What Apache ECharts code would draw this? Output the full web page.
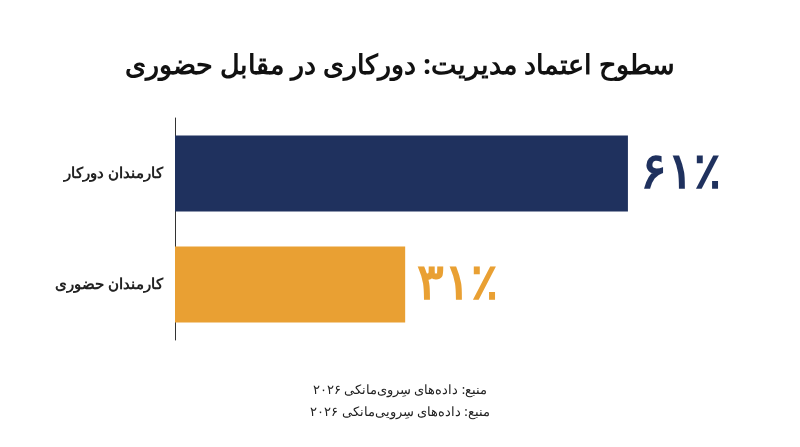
<!DOCTYPE html><html><head><meta charset="utf-8"><script src="https://cdn.jsdelivr.net/npm/echarts@6/dist/echarts.min.js"></script></head><body style="margin:0;background:#fff"><div id="c" style="width:800px;height:447px"></div><script>
const categories=['کارمندان دورکار','کارمندان حضوری'];
const values=[61,31];
const labels=['۶۱٪','۳۱٪'];
const colors=['#1f315e','#e9a033'];
const c=echarts.init(document.getElementById('c'));
c.setOption({
 title:[{text:'سطوح اعتماد مدیریت: دورکاری در مقابل حضوری',left:'center',top:48,textStyle:{fontFamily:'Noto Sans',fontSize:27,fontWeight:'bold',color:'#111'}},
 {text:'منبع: داده‌های سِروی‌مانکی ۲۰۲۶\nمنبع: داده‌های سِرویی‌مانکی ۲۰۲۶',left:'center',top:374,textStyle:{fontFamily:'Noto Sans',fontSize:13,fontWeight:'normal',color:'#222',lineHeight:22}}],
 grid:{left:175,width:594,top:118,bottom:107},
 xAxis:{type:'value',min:0,max:80,show:false},
 yAxis:{type:'category',inverse:true,data:categories,axisTick:{show:false},axisLine:{lineStyle:{color:'#333'}},axisLabel:{margin:12,fontFamily:'Noto Sans',fontSize:15,fontWeight:'bold',color:'#222'}},
 series:[{type:'bar',barWidth:76,data:values.map((v,i)=>({value:v,itemStyle:{color:colors[i]},label:{show:true,position:'right',distance:12,formatter:labels[i],color:colors[i],fontSize:50,fontWeight:'bold',fontFamily:'Noto Sans'}}))}]
});
</script></body></html>
